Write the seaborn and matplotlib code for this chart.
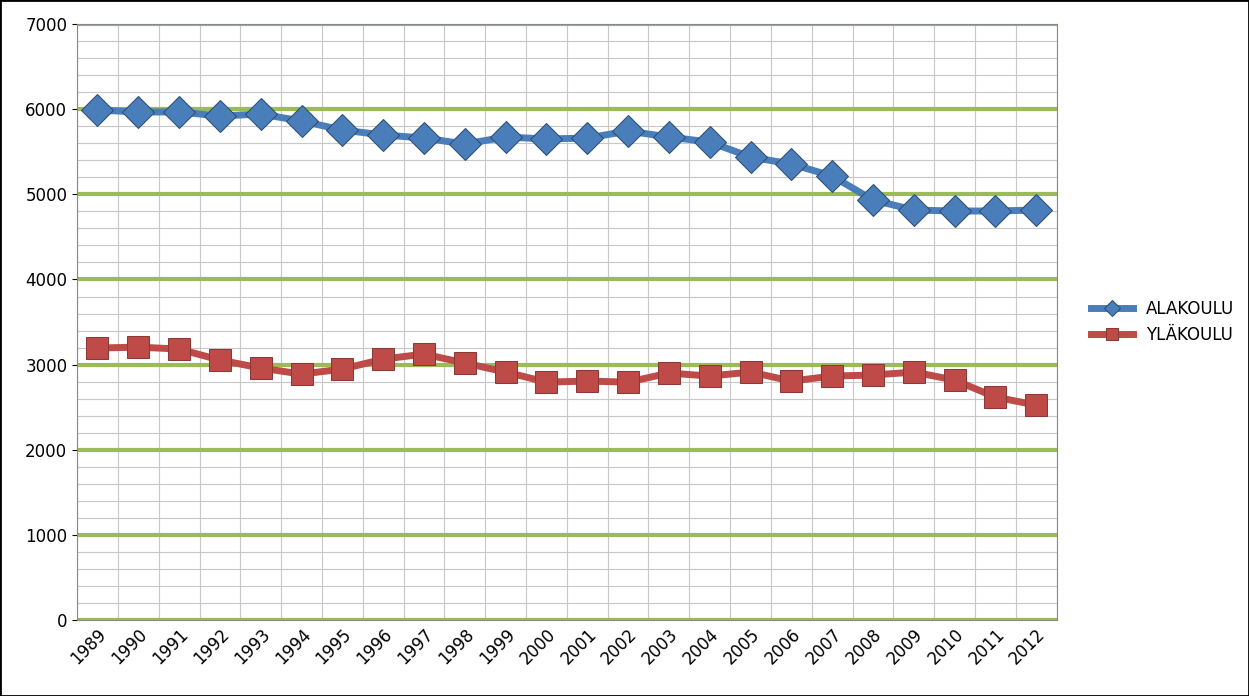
import matplotlib
matplotlib.use("Agg")
import matplotlib.pyplot as plt
import matplotlib.colors as mc
import seaborn as sns
import pandas as pd
import numpy as np

years = [str(y) for y in range(1989, 2013)]
alakoulu = [5990, 5967, 5967, 5920, 5943, 5861, 5755, 5697, 5661, 5591, 5673, 5650,
            5661, 5743, 5673, 5614, 5438, 5356, 5215, 4933, 4816, 4804, 4804, 4816]
ylakoulu = [3195, 3206, 3183, 3054, 2960, 2889, 2948, 3065, 3124, 3019, 2913, 2795,
            2807, 2795, 2901, 2866, 2913, 2807, 2866, 2878, 2913, 2819, 2619, 2525]

idx = np.arange(len(years))
df = pd.concat([
    pd.DataFrame({"i": idx, "v": alakoulu, "s": "ALAKOULU"}),
    pd.DataFrame({"i": idx, "v": ylakoulu, "s": "YLÄKOULU"}),
])

fig = plt.figure(figsize=(12.49, 6.96), dpi=100)
ax = fig.add_axes([0.0617, 0.109, 0.7843, 0.8565])
sns.lineplot(data=df, x="i", y="v", hue="s", style="s",
             palette={"ALAKOULU": "#4a7ebb", "YLÄKOULU": "#be4b48"},
             markers={"ALAKOULU": "D", "YLÄKOULU": "s"}, dashes=False,
             linewidth=5, markersize=16, ax=ax)
ax.set_xlim(-0.5, len(years) - 0.5)
ax.set_ylim(0, 7000)
ax.set_yticks(range(0, 7001, 1000))
ax.set_yticks(range(0, 7001, 200), minor=True)
ax.set_xticks(idx)
ax.set_xticklabels(years, rotation=45, ha="right", rotation_mode="anchor", fontsize=12)
ax.tick_params(axis="y", labelsize=12)
ax.set_xticks(np.arange(-0.5, len(years)), minor=True)
ax.tick_params(which="minor", length=0)
ax.grid(which="minor", color="#c8c8c8", linewidth=0.8)
ax.grid(which="major", axis="y", color="#9bbb59", linewidth=3)
ax.set_axisbelow(True)
ax.tick_params(axis="x", which="major", length=0)
ax.set_xlabel(""); ax.set_ylabel("")
for s in ax.spines.values():
    s.set_color("#888888")
leg = ax.legend(loc="center left", bbox_to_anchor=(1.02, 0.5), frameon=False,
                fontsize=12, handlelength=2.5, markerscale=0.5)
edge = {mc.to_hex("#4a7ebb"): "#2c4d75", mc.to_hex("#be4b48"): "#8c3836"}
for ln in list(ax.lines) + list(leg.get_lines()):
    c = mc.to_hex(ln.get_color())
    if c in edge:
        ln.set_markeredgecolor(edge[c])
fig.patches.append(plt.Rectangle((0, 0), 1, 1, transform=fig.transFigure,
                                 fill=False, edgecolor="black", linewidth=2))
fig.savefig("out.png", dpi=100)
